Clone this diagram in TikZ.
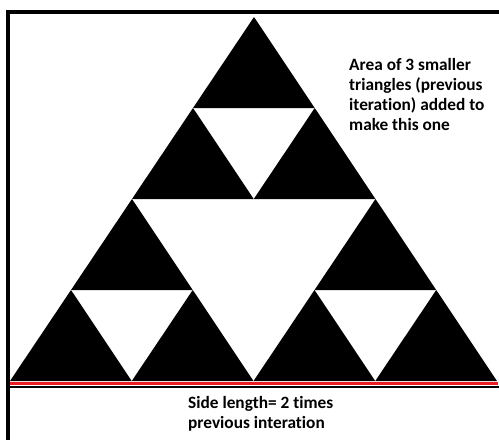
\documentclass[tikz,border=0pt]{standalone}
\usepackage{fontspec}
\setmainfont{Carlito}[Ligatures=NoCommon]
\usepackage{tikz}
\usetikzlibrary{positioning}
\definecolor{baseRed}{HTML}{ED1C24}

\begin{document}
\begin{tikzpicture}[x=1pt, y=-1pt,
    tri/.style={fill=black},
    note/.style={inner sep=0pt, anchor=base west, align=left,
                 font=\fontsize{17.3}{20.3}\selectfont\bfseries}
  ]
    \useasboundingbox (0,0) rectangle (499,440);

    % frame
    \draw[line width=4pt] (499,12) -- (8,12) -- (8,440);
    \draw[line width=2.5pt] (8,387) -- (499,387);
    \draw[baseRed, line width=2.5pt] (10,383.5) -- (498,383.5);

    % nine corner triangles of the second iteration
    \foreach \i/\j in {0/0, 1/0, 2/0, 3/0, 0/1, 2/1, 0/2, 1/2, 0/3}
      \fill[tri] ({10+121.75*\i+61*\j}, {381-91*\j})
              -- ({10+121.75*(\i+1)+61*\j}, {381-91*\j})
              -- ({10+121.75*\i+61*(\j+1)}, {381-91*(\j+1)}) -- cycle;

    % base anchor sits on the last line
    \node[note] (area) at (349,130.9)
      {Area of 3 smaller\\
       triangles (previous\\
       iteration) added to\\
       make this one};

    \node[note, font=\fontsize{17.3}{20}\selectfont\bfseries] (side) at (188,428)
      {Side length= 2 times\\
       previous interation};
  \end{tikzpicture}
\end{document}
